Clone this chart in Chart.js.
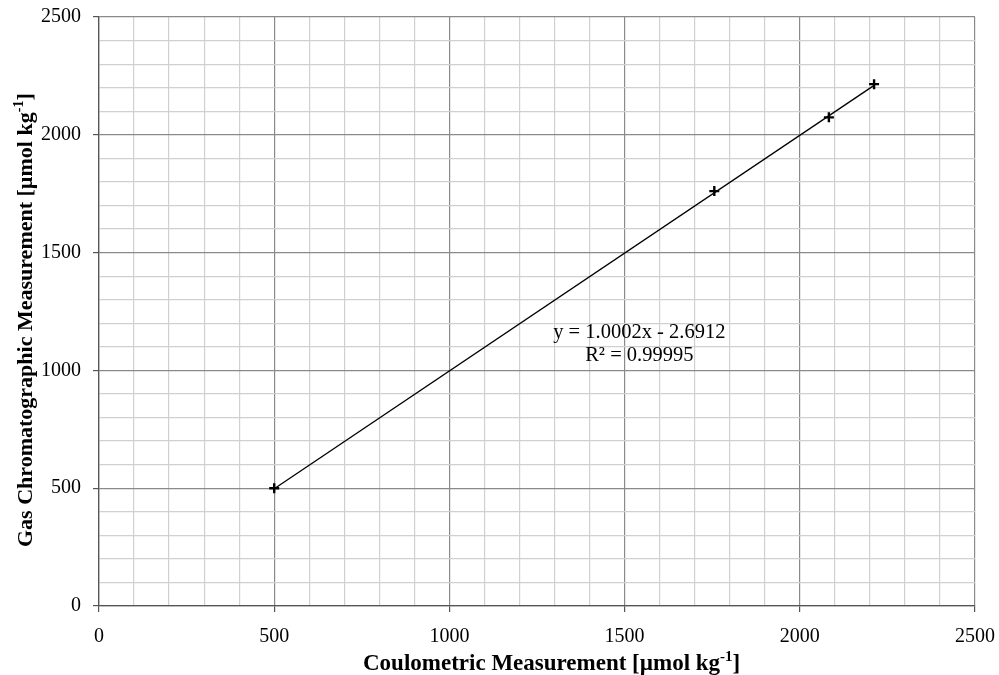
<!DOCTYPE html>
<html><head><meta charset="utf-8">
<script src="https://cdn.jsdelivr.net/npm/chart.js@4"></script>
<style>html,body{margin:0;padding:0;background:#fff}#wrap{width:999px;height:675px}</style>
</head><body><div id="wrap"><canvas id="c" width="999" height="675"></canvas></div>
<script>
const coulometric = [500, 1756, 2083, 2212];
const gasChromatographic = [500, 1761, 2074, 2215];
const trendSlope = 1.0002;
const trendIntercept = -2.6912;
const equationLines = ['y = 1.0002x - 2.6912', 'R² = 0.99995'];
const xTitleParts = ['Coulometric Measurement [µmol kg', '-1', ']'];
const yTitleParts = ['Gas Chromatographic Measurement [µmol kg', '-1', ']'];

const pts = coulometric.map((x, i) => ({x, y: gasChromatographic[i]}));
const xMin = Math.min(...coulometric), xMax = Math.max(...coulometric);
const trend = [xMin, xMax].map(x => ({x, y: trendSlope * x + trendIntercept}));

const FONT = '"Liberation Serif", "Times New Roman", serif';
const gridColor = ctx => (ctx.tick && ctx.tick.value % 500 === 0) ? '#8a8a8a' : '#d0d0d0';
const tickCol = ctx => (ctx.tick && ctx.tick.value % 500 === 0) ? '#555' : 'rgba(0,0,0,0)';

function drawTitle(ctx, parts, size) {
  ctx.font = 'bold ' + size + 'px ' + FONT;
  ctx.fillText(parts[0], 0, 0);
  let w = ctx.measureText(parts[0]).width;
  ctx.font = 'bold ' + Math.round(size * 0.64) + 'px ' + FONT;
  ctx.fillText(parts[1], w, -Math.round(size * 0.4));
  w += ctx.measureText(parts[1]).width;
  ctx.font = 'bold ' + size + 'px ' + FONT;
  ctx.fillText(parts[2], w, 0);
}

const textPlugin = {
  id: 'texts',
  afterDatasetsDraw(chart) {
    const {ctx, scales: {x, y}} = chart;
    ctx.save();
    ctx.font = '20.5px ' + FONT;
    ctx.fillStyle = '#000';
    ctx.textAlign = 'center';
    ctx.textBaseline = 'middle';
    const cx = x.getPixelForValue(1542);
    ctx.fillText(equationLines[0], cx, y.getPixelForValue(1160));
    ctx.fillText(equationLines[1], cx, y.getPixelForValue(1064));
    ctx.textAlign = 'left';
    ctx.textBaseline = 'alphabetic';
    ctx.save();
    ctx.translate(363, 670);
    drawTitle(ctx, xTitleParts, 23);
    ctx.restore();
    ctx.save();
    ctx.translate(32, 547);
    ctx.rotate(-Math.PI / 2);
    drawTitle(ctx, yTitleParts, 22);
    ctx.restore();
    ctx.restore();
  }
};

new Chart(document.getElementById('c'), {
  type: 'scatter',
  data: {
    datasets: [
      {data: trend, showLine: true, borderColor: '#000', borderWidth: 1.3, pointRadius: 0, order: 2},
      {data: pts, pointStyle: 'cross', pointRadius: 5, borderColor: '#000', borderWidth: 2.4, backgroundColor: '#000', order: 1}
    ]
  },
  options: {
    responsive: false,
    animation: false,
    layout: {padding: {top: 17, right: 24, left: 0, bottom: 0}},
    plugins: {legend: {display: false}, tooltip: {enabled: false}},
    scales: {
      x: {
        type: 'linear', min: 0, max: 2500,
        afterFit: s => { s.height = 69; s.paddingLeft = 0; s.paddingRight = 0; },
        ticks: {stepSize: 100, autoSkip: false, maxRotation: 0, color: '#000', padding: 13,
          font: {family: FONT, size: 20},
          callback: v => v % 500 === 0 ? v : ''},
        grid: {color: gridColor, tickColor: tickCol, tickLength: 6, lineWidth: 1.2},
        border: {color: '#555', width: 1.3}
      },
      y: {
        type: 'linear', min: 0, max: 2500,
        afterFit: s => { s.width = 99; s.paddingTop = 0; s.paddingBottom = 0; },
        ticks: {stepSize: 100, autoSkip: false, color: '#000', padding: 12,
          font: {family: FONT, size: 20},
          callback: v => v % 500 === 0 ? v : ''},
        grid: {color: gridColor, tickColor: tickCol, tickLength: 6, lineWidth: 1.2},
        border: {color: '#555', width: 1.3}
      }
    }
  },
  plugins: [textPlugin]
});
</script></body></html>
